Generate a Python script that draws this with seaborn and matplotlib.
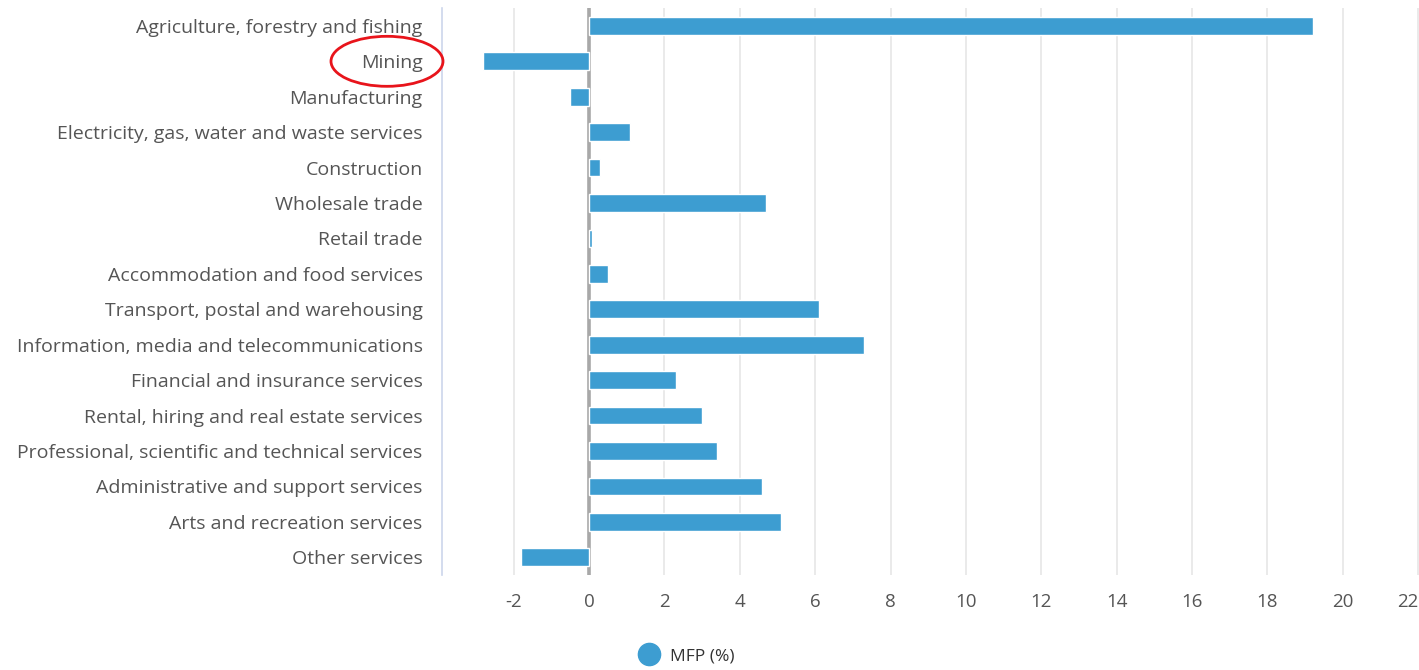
import matplotlib
matplotlib.use("Agg")
import matplotlib.pyplot as plt
import matplotlib.transforms as mtransforms
from matplotlib.patches import Ellipse
from matplotlib.lines import Line2D
import seaborn as sns
import pandas as pd

categories = [
    "Agriculture, forestry and fishing",
    "Mining",
    "Manufacturing",
    "Electricity, gas, water and waste services",
    "Construction",
    "Wholesale trade",
    "Retail trade",
    "Accommodation and food services",
    "Transport, postal and warehousing",
    "Information, media and telecommunications",
    "Financial and insurance services",
    "Rental, hiring and real estate services",
    "Professional, scientific and technical services",
    "Administrative and support services",
    "Arts and recreation services",
    "Other services",
]
mfp_values = [19.2, -2.8, -0.5, 1.1, 0.3, 4.7, 0.08, 0.5, 6.1, 7.3, 2.3, 3.0, 3.4, 4.6, 5.1, -1.8]
x_ticks = [-2, 0, 2, 4, 6, 8, 10, 12, 14, 16, 18, 20, 22]
series_name = "MFP (%)"
highlight = "Mining"

df = pd.DataFrame({"category": categories, "value": mfp_values})

sns.set_theme(style="white")
plt.rcParams["font.family"] = ["Open Sans", "DejaVu Sans"]

BAR = "#3d9dd1"
fig = plt.figure(figsize=(14.19, 6.70), dpi=100)
ax = fig.add_axes([0.3115, 0.1418, 0.6885, 0.846])

sns.barplot(data=df, x="value", y="category", orient="h", color=BAR,
            width=0.5, edgecolor="white", linewidth=1, saturation=1, ax=ax, zorder=3)

ax.set_xlim(-3.9, 22.02)
ax.set_ylim(15.5, -0.5)
ax.set_xticks(x_ticks)
ax.set_xticklabels([str(t) for t in x_ticks])
for t in x_ticks:
    ax.axvline(t, color="#e6e6e6", lw=1.2, zorder=0)
ax.axvline(0, color="#a8a8a8", lw=2.6, zorder=1)

for s in ["top", "right", "bottom"]:
    ax.spines[s].set_visible(False)
ax.spines["left"].set_color("#ccd6eb")
ax.spines["left"].set_linewidth(1.2)

ax.set_xlabel("")
ax.set_ylabel("")
ax.tick_params(axis="y", length=0, labelsize=14, labelcolor="#555555", pad=14)
ax.tick_params(axis="x", length=0, labelsize=13.5, labelcolor="#555555", pad=13)
lbls = ax.get_xticklabels()
lbls[-1].set_ha("right")

# Legend
handle = Line2D([], [], marker="o", linestyle="none", markersize=16,
                markerfacecolor=BAR, markeredgecolor=BAR)
fig.legend([handle], [series_name], loc="center", bbox_to_anchor=(683 / 1419, 1 - 656 / 670),
           frameon=False, fontsize=12.5, handletextpad=0.25, labelcolor="#333333")

# Red ellipse around highlighted label
fig.canvas.draw()
idx = categories.index(highlight)
cy = ax.transData.transform((0, idx))[1]
cx = fig.transFigure.transform((387 / 1419, 0))[0]
ell = Ellipse((cx, cy), 112, 50, fill=False, edgecolor="#e8141b", lw=2,
              transform=mtransforms.IdentityTransform())
fig.patches.append(ell)

fig.savefig("out.png", dpi=100)
